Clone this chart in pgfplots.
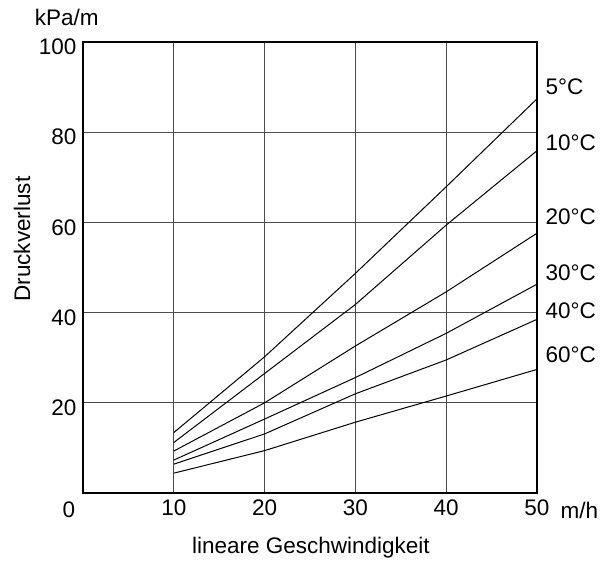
\documentclass[border=0pt]{standalone}
\usepackage{pgfplots}
\pgfplotsset{compat=1.18}
\usepackage{fontspec}
\setmainfont{Liberation Sans}

\begin{document}
\begin{tikzpicture}
\useasboundingbox (-83bp,-74bp) rectangle (524bp,493bp);
\begin{axis}[
    at={(0,0)}, anchor=south west,
    scale only axis,
    width=454bp, height=451bp,
    xmin=0, xmax=50, ymin=0, ymax=100,
    xtick={10,20,30,40,50},
    ytick={20,40,60,80,100},
    major tick length=0pt,
    grid=major,
    grid style={draw=black!70, line width=0.9bp},
    axis line style={line width=2.4bp},
    font=\fontsize{22.5bp}{27bp}\selectfont,
    /pgf/number format/assume math mode=true,
    x tick label style={yshift=-3bp},
    y tick label style={xshift=-3bp, yshift=-5bp},
    clip=false,
]
% 5 C
\addplot[black, line width=1bp] coordinates {(10,13.4) (20,30.2) (30,48.7) (40,67.9) (50,87.4)};
% 10 C
\addplot[black, line width=1bp] coordinates {(10,11.2) (20,26.5) (30,41.8) (40,59.4) (50,75.9)};
% 20 C
\addplot[black, line width=1bp] coordinates {(10,9.3) (20,20.0) (30,32.6) (40,44.6) (50,57.6)};
% 30 C
\addplot[black, line width=1bp] coordinates {(10,7.3) (20,16.4) (30,25.6) (40,35.4) (50,46.3)};
% 40 C
\addplot[black, line width=1bp] coordinates {(10,6.4) (20,13.1) (30,22.0) (40,29.5) (50,38.5)};
% 60 C
\addplot[black, line width=1bp] coordinates {(10,4.4) (20,9.4) (30,15.7) (40,21.5) (50,27.4)};

\node[anchor=west] at (axis cs:50,90.1) [xshift=5bp] {5°C};
\node[anchor=west] at (axis cs:50,77.7) [xshift=5bp] {10°C};
\node[anchor=west] at (axis cs:50,61.3) [xshift=5bp] {20°C};
\node[anchor=west] at (axis cs:50,48.8) [xshift=5bp] {30°C};
\node[anchor=west] at (axis cs:50,40.5) [xshift=5bp] {40°C};
\node[anchor=west] at (axis cs:50,30.6) [xshift=5bp] {60°C};

\node at (axis cs:-1.55,-3.8) {0};
\node[anchor=west] at (axis cs:50,-3.8) [xshift=20bp] {m/h};
\node at (axis cs:-1.8,105.5) {kPa/m};
\node[rotate=90] at (axis cs:-6.7,56.3) {Druckverlust};
\node at (axis cs:25.1,-12.2) {lineare Geschwindigkeit};
\end{axis}
\end{tikzpicture}
\end{document}
